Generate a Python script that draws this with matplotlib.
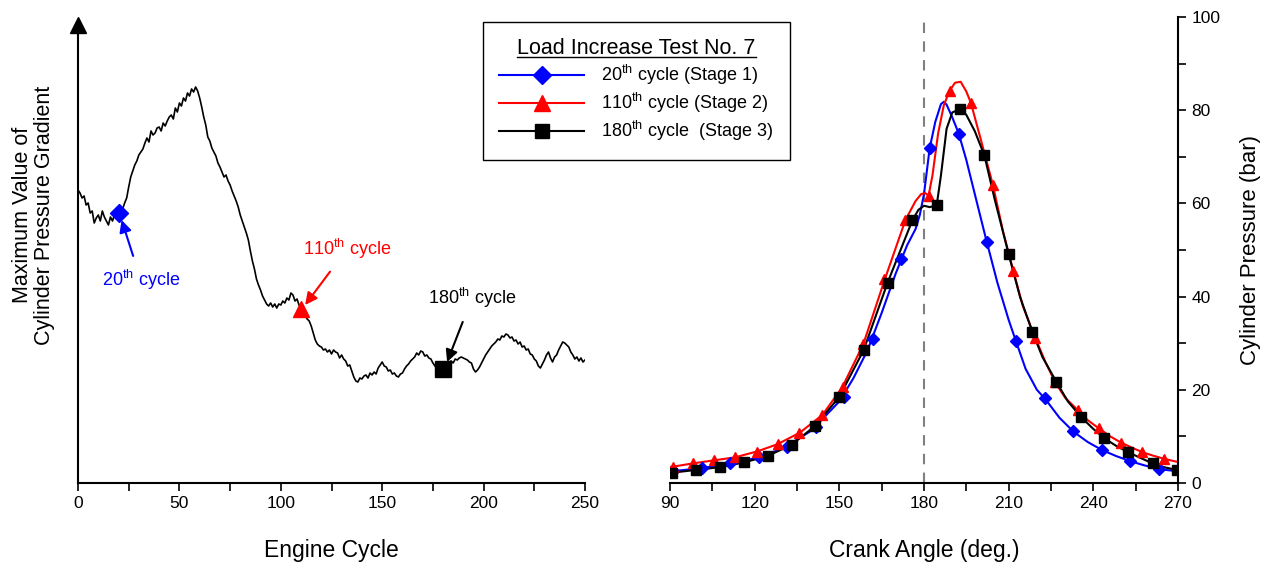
import matplotlib
matplotlib.use("Agg")
import matplotlib.pyplot as plt
from matplotlib.lines import Line2D
from matplotlib.ticker import MultipleLocator

plt.rcParams['font.family'] = ['Liberation Sans', 'DejaVu Sans']
plt.rcParams['mathtext.default'] = 'regular'

# left panel : max pressure gradient per engine cycle (arbitrary units)
cycles = list(range(0, 251))
gradient = [293, 290, 285, 287, 278, 280, 270, 272, 260, 265, 268, 262, 272, 266, 262, 258, 266, 262, 268, 264,
            270, 276, 274, 280, 285, 296, 306, 312, 318, 322, 328, 331, 334, 340, 345, 341, 352, 348, 350, 355,
            356, 352, 360, 357, 362, 366, 368, 364, 375, 371, 380, 377, 385, 382, 390, 387, 394, 391, 396, 392,
            385, 376, 366, 358, 346, 342, 335, 331, 327, 320, 316, 311, 306, 308, 302, 298, 292, 287, 282, 276,
            268, 262, 256, 250, 243, 232, 222, 214, 204, 198, 193, 187, 183, 179, 177, 180, 176, 179, 175, 179,
            178, 182, 180, 185, 183, 190, 188, 182, 184, 178, 174, 171, 168, 164, 162, 157, 150, 143, 139, 137,
            136, 133, 134, 131, 133, 129, 133, 131, 130, 125, 128, 124, 122, 117, 118, 112, 106, 102, 101, 105,
            104, 107, 108, 105, 110, 108, 111, 109, 115, 118, 121, 117, 116, 112, 113, 109, 110, 107, 106, 109,
            110, 114, 117, 119, 122, 124, 126, 130, 128, 132, 131, 127, 128, 125, 124, 120, 117, 115, 114, 112,
            114, 116, 118, 121, 122, 120, 124, 123, 125, 126, 125, 124, 123, 121, 120, 114, 111, 113, 116, 120,
            124, 128, 131, 134, 137, 139, 141, 144, 143, 147, 146, 149, 148, 145, 146, 142, 143, 139, 141, 136,
            137, 133, 134, 129, 128, 124, 122, 117, 115, 119, 123, 128, 131, 125, 121, 126, 128, 133, 137, 141,
            140, 138, 136, 131, 128, 124, 126, 122, 125, 121, 123]

# right panel : cylinder pressure vs crank angle
ang_s1 = [90, 100, 110, 120, 130, 140, 150, 155, 160, 165, 170, 174, 177, 178.5, 180, 182, 184, 186, 187, 188,
          190, 192.3, 195, 198, 202, 206, 210, 212.6, 216, 220, 223, 228, 233, 238, 243, 248, 253, 258, 263, 270]
p_s1 = [2.5, 3.1, 4.0, 5.3, 7.4, 11.2, 17.5, 22.5, 28.5, 36.5, 45, 51, 54.5, 57.5, 62, 71.8, 77.5, 81.3, 81.8, 81.2,
        78.5, 75, 69.3, 62, 52.3, 43, 35, 30.4, 24.5, 20, 18, 14, 11, 8.8, 7.1, 5.8, 4.7, 3.8, 3.0, 2.5]
mk_ang_s1 = [91.2, 101.3, 111.4, 121.5, 131.6, 141.7, 151.8, 161.8, 171.9, 182.1, 192.3, 202.3,
             212.6, 222.9, 232.9, 243.0, 253.0, 263.1]
mk_p_s1 = [2.5, 3.2, 4.2, 5.6, 7.8, 12.0, 18.5, 30.8, 48.1, 71.8, 75.0, 51.7,
           30.4, 18.2, 11.2, 7.1, 4.7, 3.0]

ang_s2 = [90, 98, 106, 113, 121, 128, 136, 144, 151, 158.5, 166, 173.4, 177, 179, 180.5, 181.6, 183, 185, 187,
          189, 191, 193, 195, 196.6, 200, 204.4, 208, 211.7, 215, 219.4, 223, 226.4, 230, 234.4, 238, 242,
          246, 250, 254, 257.4, 261, 265, 270]
p_s2 = [3.4, 4.2, 4.9, 5.5, 6.8, 8.3, 10.8, 14.6, 20.5, 29.8, 43.5, 56.4, 60.5, 62, 62.2, 61.6, 66, 75, 81,
        84.1, 85.9, 86.1, 84, 81.6, 74, 64, 54, 45.4, 38, 31.2, 26, 21.7, 18.3, 15.7, 13.5, 11.7,
        10, 8.6, 7.5, 6.6, 5.9, 5.2, 4.5]
mk_ang_s2 = [91, 98.3, 105.6, 113, 120.7, 128.4, 135.8, 144, 151.2, 158.5, 166, 173.4, 181.6, 189.1,
             196.6, 204.4, 211.5, 219.4, 226.4, 234.4, 242.1, 249.8, 257.4, 265.1]
mk_p_s2 = [3.5, 4.3, 4.9, 5.5, 6.7, 8.4, 10.7, 14.5, 20.7, 29.8, 43.8, 56.4, 61.6, 84.1,
           81.6, 64.0, 45.4, 31.2, 21.7, 15.7, 11.7, 8.6, 6.6, 5.2]

ang_s3 = [90.6, 99.1, 107.7, 116.1, 124.6, 133.1, 141.5, 150, 158.6, 167.1, 175.9, 178, 180, 182, 184.5, 186,
          188, 190, 192.9, 195, 198, 201.4, 205, 210, 214, 218.4, 222, 226.9, 231, 235.6, 240, 243.9, 248,
          252.4, 257, 261, 265, 269.6]
p_s3 = [2.2, 2.8, 3.4, 4.4, 5.8, 8.2, 12.3, 18.5, 28.5, 43.0, 56.4, 58.6, 59.5, 59.2, 59.6, 66,
        76, 79.5, 80.3, 79, 75.5, 70.3, 61, 49.1, 40, 32.4, 27, 21.7, 17.5, 14.2, 11.6, 9.6, 8,
        6.6, 5.3, 4.2, 3.4, 2.8]
mk_ang_s3 = [90.6, 99.1, 107.7, 116.1, 124.6, 133.1, 141.5, 150, 158.6, 167.1, 175.9, 184.5, 192.9,
             201.4, 210, 218.4, 226.9, 235.6, 243.9, 252.4, 261, 269.6]
mk_p_s3 = [2.2, 2.8, 3.4, 4.4, 5.8, 8.2, 12.3, 18.5, 28.5, 43.0, 56.4, 59.6, 80.3,
           70.3, 49.1, 32.4, 21.7, 14.2, 9.6, 6.6, 4.2, 2.8]

labels = [r'20$^{th}$ cycle (Stage 1)', r'110$^{th}$ cycle (Stage 2)', r'180$^{th}$ cycle  (Stage 3)']

fig = plt.figure(figsize=(12.72, 5.64), dpi=100)

# ---------- left panel ----------
ax1 = fig.add_axes([78 / 1272, 1 - 483 / 564, 507 / 1272, 458 / 564])
ax1.plot(cycles, gradient, color='black', lw=1.2)
ax1.plot(20, gradient[20], 'D', color='blue', ms=9)
ax1.plot(110, gradient[110], '^', color='red', ms=11)
ax1.plot(180, gradient[180], 's', color='black', ms=11)

arrow_kw = dict(arrowstyle='-|>', lw=1.5, shrinkA=7, shrinkB=0, mutation_scale=18)
ax1.annotate(r'20$^{th}$ cycle', xy=(21.5, 263), xytext=(31, 203), color='blue', fontsize=13,
             ha='center', va='center', arrowprops=dict(color='blue', **arrow_kw))
ax1.annotate(r'110$^{th}$ cycle', xy=(112, 178), xytext=(132.6, 234), color='red', fontsize=13,
             ha='center', va='center', arrowprops=dict(color='red', **arrow_kw))
ax1.annotate(r'180$^{th}$ cycle', xy=(182, 121), xytext=(194.3, 185), color='black', fontsize=13,
             ha='center', va='center', arrowprops=dict(color='black', **arrow_kw))

ax1.set_xlim(0, 250)
ax1.set_ylim(0, 458)
ax1.set_yticks([])
ax1.xaxis.set_major_locator(MultipleLocator(50))
ax1.xaxis.set_minor_locator(MultipleLocator(25))
ax1.tick_params(axis='x', which='both', direction='out', length=6, width=1.2, labelsize=12.5)
ax1.spines['top'].set_visible(False)
ax1.spines['right'].set_visible(False)
ax1.spines['left'].set_linewidth(1.5)
ax1.spines['bottom'].set_linewidth(1.5)
ax1.plot(0, 1, '^', color='black', ms=12, transform=ax1.transAxes, clip_on=False)
ax1.set_xlabel('Engine Cycle', fontsize=16.5, labelpad=20)
ax1.set_ylabel('Maximum Value of\nCylinder Pressure Gradient', fontsize=15.5, linespacing=1.05)
ax1.yaxis.set_label_coords(-0.045, 0.585)

# ---------- right panel ----------
ax2 = fig.add_axes([670 / 1272, 1 - 483 / 564, 508 / 1272, 466 / 564])
ax2.axvline(180, color='gray', ls=(0, (5, 4)), lw=1.5)
ax2.plot(ang_s1, p_s1, color='blue', lw=1.5)
ax2.plot(ang_s2, p_s2, color='red', lw=1.5)
ax2.plot(ang_s3, p_s3, color='black', lw=1.5)
ax2.plot(mk_ang_s1, mk_p_s1, 'D', color='blue', ms=6, ls='none')
ax2.plot(mk_ang_s2, mk_p_s2, '^', color='red', ms=7, ls='none')
ax2.plot(mk_ang_s3, mk_p_s3, 's', color='black', ms=7, ls='none')

ax2.set_xlim(90, 270)
ax2.set_ylim(0, 100)
ax2.xaxis.set_major_locator(MultipleLocator(30))
ax2.xaxis.set_minor_locator(MultipleLocator(15))
ax2.yaxis.set_major_locator(MultipleLocator(20))
ax2.yaxis.set_minor_locator(MultipleLocator(10))
ax2.yaxis.tick_right()
ax2.yaxis.set_label_position('right')
ax2.tick_params(which='both', direction='out', length=6, width=1.2, labelsize=12.5)
ax2.spines['top'].set_visible(False)
ax2.spines['left'].set_visible(False)
ax2.spines['right'].set_linewidth(1.5)
ax2.spines['bottom'].set_linewidth(1.5)
ax2.set_xlabel('Crank Angle (deg.)', fontsize=16.5, labelpad=20)
ax2.set_ylabel('Cylinder Pressure (bar)', fontsize=16, labelpad=14)

# legend handles with markers
h1 = Line2D([], [], color='blue', lw=1.5, marker='D', ms=9)
h2 = Line2D([], [], color='red', lw=1.5, marker='^', ms=11)
h3 = Line2D([], [], color='black', lw=1.5, marker='s', ms=10)
leg = fig.legend([h1, h2, h3], labels, loc='upper left', bbox_to_anchor=(483 / 1272, 1 - 22 / 564),
                 borderaxespad=0, title='Load Increase Test No. 7', title_fontsize=15.5, fontsize=13,
                 handlelength=4.7, handletextpad=0.95, labelspacing=0.22, borderpad=0.9,
                 fancybox=False, edgecolor='black', framealpha=1, numpoints=1)
leg.get_frame().set_linewidth(1.0)

fig.canvas.draw()
bb = leg.get_title().get_window_extent().transformed(fig.transFigure.inverted())
fig.add_artist(Line2D([bb.x0, bb.x1], [bb.y0 + 0.004, bb.y0 + 0.004], color='black', lw=1.0,
                      transform=fig.transFigure, zorder=10))

fig.savefig('out.png', dpi=100)
